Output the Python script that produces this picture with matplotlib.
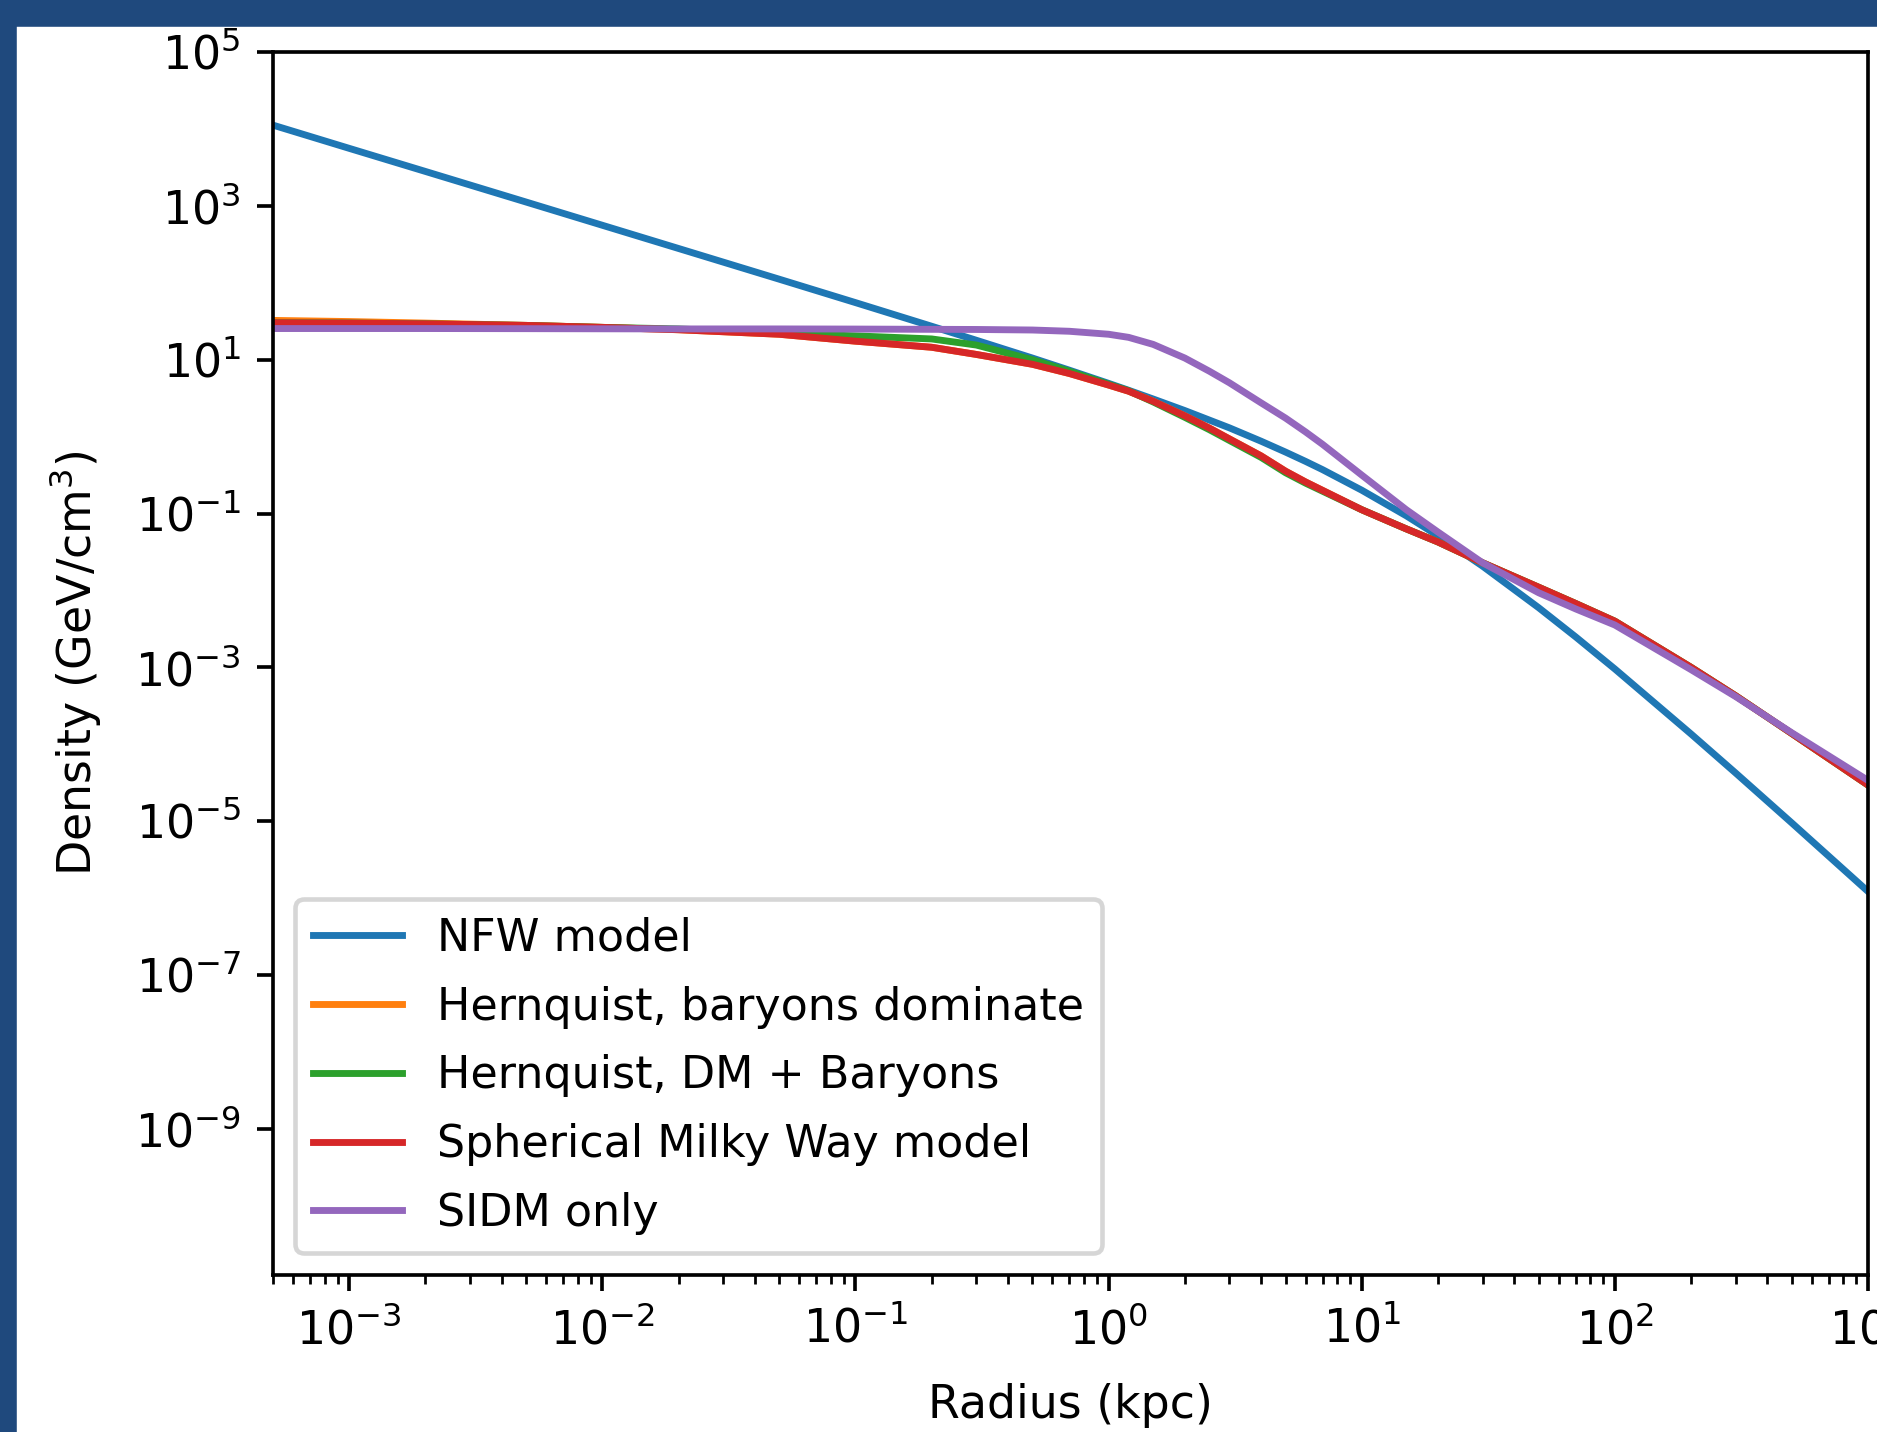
import matplotlib.pyplot as plt
from matplotlib.patches import Rectangle
from matplotlib.ticker import NullLocator

# radius grid (kpc) and densities (GeV/cm^3)
radius = [5e-4, 1e-3, 2e-3, 5e-3, 1e-2, 2e-2, 5e-2, 0.1, 0.2, 0.3, 0.5, 0.7,
          1.0, 1.2, 1.5, 2.0, 2.5, 3.0, 4.0, 5.0, 6.0, 7.0, 10, 15, 20, 30,
          50, 70, 100, 200, 300, 500, 1000]

nfw = [1.12e4, 5.59e3, 2.80e3, 1.12e3, 559, 279, 111.2, 55.2, 27.2, 17.9,
       10.5, 7.30, 4.92, 4.00, 3.08, 2.18, 1.64, 1.30, 0.872, 0.629, 0.476,
       0.372, 0.201, 0.0933, 0.0514, 0.0207, 5.96e-3, 2.49e-3, 9.52e-4,
       1.36e-4, 4.23e-5, 9.49e-6, 1.22e-6]

hernquist_baryons = [32.4, 31.3, 29.9, 27.9, 26.3, 24.5, 21.4, 17.4, 14.5,
                     11.7, 8.71, 6.61, 4.68, 3.89, 2.88, 1.86, 1.29, 0.933,
                     0.562, 0.355, 0.257, 0.200, 0.112, 0.0631, 0.0427,
                     0.0229, 0.0110, 6.76e-3, 3.98e-3, 1.00e-3, 4.27e-4,
                     1.38e-4, 2.95e-5]

hernquist_dm_baryons = [30.2, 29.9, 29.2, 27.9, 26.3, 25.1, 22.1, 20.4, 18.6,
                        15.5, 10.0, 7.08, 4.79, 3.94, 2.82, 1.78, 1.23, 0.891,
                        0.537, 0.339, 0.248, 0.195, 0.112, 0.0631, 0.0427,
                        0.0229, 0.0110, 6.76e-3, 3.98e-3, 1.00e-3, 4.27e-4,
                        1.38e-4, 2.95e-5]

milky_way = [30.2, 29.9, 29.2, 27.9, 26.3, 24.5, 21.4, 17.4, 14.5, 11.7,
             8.71, 6.61, 4.68, 3.89, 2.88, 1.86, 1.29, 0.933, 0.562, 0.355,
             0.257, 0.200, 0.112, 0.0631, 0.0427, 0.0229, 0.0110, 6.76e-3,
             3.98e-3, 1.00e-3, 4.27e-4, 1.38e-4, 2.95e-5]

sidm = [25.4, 25.4, 25.4, 25.3, 25.2, 25.1, 25.1, 25.0, 24.8, 24.7, 24.3,
        23.4, 21.4, 19.5, 15.8, 10.5, 7.08, 5.01, 2.75, 1.74, 1.15, 0.794,
        0.316, 0.112, 0.0575, 0.0229, 9.33e-3, 5.75e-3, 3.55e-3, 9.33e-4,
        4.17e-4, 1.41e-4, 3.39e-5]

labels = ["NFW model", "Hernquist, baryons dominate", "Hernquist, DM + Baryons",
          "Spherical Milky Way model", "SIDM only"]

W, H, DPI = 1877, 1432, 330
fig = plt.figure(figsize=(W / DPI, H / DPI), dpi=DPI)

# slide frame (dark blue band on top and left)
border = "#1f497d"
fig.patches.append(Rectangle((0, 1 - 24 / H), 1, 24 / H, transform=fig.transFigure,
                             color=border, zorder=10))
fig.patches.append(Rectangle((0, 0), 14 / W, 1, transform=fig.transFigure,
                             color=border, zorder=10))

ax = fig.add_axes([273 / W, 1 - 1275 / H, (1868 - 273) / W, (1275 - 52) / H])

for dens, name in zip([nfw, hernquist_baryons, hernquist_dm_baryons, milky_way, sidm], labels):
    ax.plot(radius, dens, label=name)

ax.set_xscale("log")
ax.set_yscale("log")
ax.set_xlim(5e-4, 1e3)
ax.set_ylim(10 ** -10.9, 1e5)
ax.set_yticks([1e5, 1e3, 1e1, 1e-1, 1e-3, 1e-5, 1e-7, 1e-9])
ax.yaxis.set_minor_locator(NullLocator())

ax.set_xlabel("Radius (kpc)", labelpad=6.5)
ax.set_ylabel("Density (GeV/cm$^3$)", labelpad=7)
ax.legend(loc="lower left", fontsize=9.7, labelspacing=0.58)

fig.savefig("out.png", dpi=DPI)
